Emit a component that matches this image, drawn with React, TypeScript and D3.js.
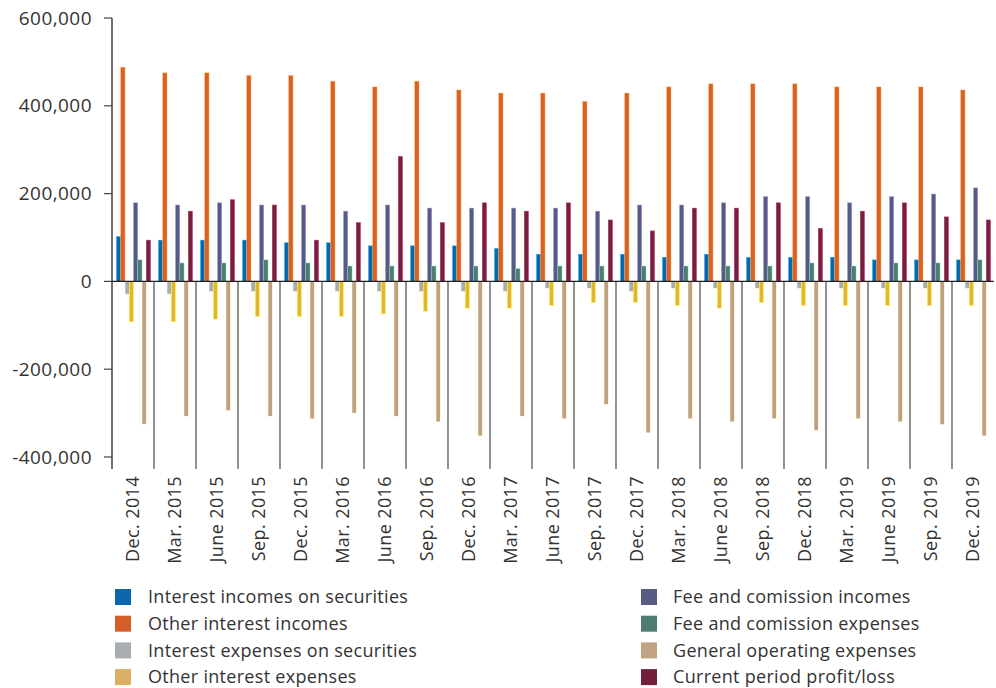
import * as d3 from "d3";

const categories = [
  "Dec. 2014", "Mar. 2015", "June 2015", "Sep. 2015", "Dec. 2015", "Mar. 2016",
  "June 2016", "Sep. 2016", "Dec. 2016", "Mar. 2017", "June 2017", "Sep. 2017",
  "Dec. 2017", "Mar. 2018", "June 2018", "Sep. 2018", "Dec. 2018", "Mar. 2019",
  "June 2019", "Sep. 2019", "Dec. 2019",
];

// values in thousands
const interestIncomesSecurities = [102, 94, 94, 94, 88, 88, 81, 81, 81, 75, 62, 62, 62, 55, 62, 55, 55, 55, 49, 49, 49];
const otherInterestIncomes = [488, 475, 475, 469, 469, 456, 443, 456, 436, 429, 429, 410, 429, 443, 450, 450, 450, 443, 443, 443, 436];
const interestExpensesSecurities = [-29, -29, -23, -23, -23, -23, -23, -23, -23, -23, -16, -16, -23, -16, -16, -16, -16, -16, -16, -16, -16];
const otherInterestExpenses = [-92, -92, -86, -80, -80, -80, -74, -68, -61, -61, -55, -48, -48, -55, -61, -48, -55, -55, -55, -55, -55];
const feeIncomes = [179, 174, 179, 174, 174, 160, 174, 167, 167, 167, 167, 160, 174, 174, 179, 193, 193, 179, 193, 199, 213];
const feeExpenses = [49, 42, 42, 49, 42, 35, 35, 35, 35, 29, 35, 35, 35, 35, 35, 35, 42, 35, 42, 42, 49];
const generalOperating = [-325, -307, -294, -307, -313, -300, -307, -320, -352, -307, -313, -280, -345, -313, -320, -313, -339, -313, -320, -326, -352];
const profitLoss = [94, 160, 186, 174, 94, 134, 285, 134, 179, 160, 179, 140, 115, 167, 167, 179, 121, 160, 179, 147, 140];

const yTicks = [600, 400, 200, 0, -200, -400];

const series = [
  { name: "Interest incomes on securities", values: interestIncomesSecurities, color: "#0b66aa", legend: "#0b66aa" },
  { name: "Other interest incomes", values: otherInterestIncomes, color: "#d8612a", legend: "#d45f2a" },
  { name: "Interest expenses on securities", values: interestExpensesSecurities, color: "#a7aeb1", legend: "#a6aeb2" },
  { name: "Other interest expenses", values: otherInterestExpenses, color: "#e5b431", legend: "#d9b064" },
  { name: "Fee and comission incomes", values: feeIncomes, color: "#575b82", legend: "#585c85" },
  { name: "Fee and comission expenses", values: feeExpenses, color: "#4f7c6f", legend: "#4f7c70" },
  { name: "General operating expenses", values: generalOperating, color: "#c0a17f", legend: "#c1a383" },
  { name: "Current period profit/loss", values: profitLoss, color: "#731f3e", legend: "#731e3d" },
];

const FONT = "'Open Sans', 'Noto Sans', sans-serif";
const TEXT = "#333";

export default function App() {
  const width = 996;
  const height = 688;
  const left = 112;
  const right = 994;

  const y = d3.scaleLinear().domain([-400, 600]).range([457, 18]);
  const x0 = d3.scaleBand<string>().domain(categories).range([left, right]).padding(0);
  const x1 = d3
    .scaleBand<number>()
    .domain(d3.range(series.length))
    .range([4.5, x0.bandwidth() - 3.5])
    .padding(0);
  const zero = y(0);
  // hyphen for negatives, as in the original
  const fmt = (v: number) => d3.format(",")(v).replace("−", "-");

  return (
    <svg
      width={width}
      height={height}
      style={{ position: "absolute", left: 0, top: 0, display: "block", background: "#fff" }}
      fontFamily={FONT}
    >
      {/* bars */}
      {categories.map((c, ci) => (
        <g key={c} transform={`translate(${x0(c)},0)`}>
          {series.map((s, si) => {
            const v = s.values[ci];
            const top = Math.min(y(v), zero);
            const h = Math.abs(y(v) - zero);
            return (
              <rect
                key={s.name}
                x={x1(si)}
                y={top}
                width={x1.bandwidth()}
                height={h}
                fill={s.color}
                stroke={d3.color(s.color)!.brighter(1.6).formatHex()}
                strokeWidth={0.5}
              />
            );
          })}
        </g>
      ))}

      {/* category dividers */}
      {categories.slice(1).map((c) => (
        <line key={c} x1={x0(c)} x2={x0(c)} y1={zero} y2={469} stroke="#3a3a3a" strokeWidth={1.1} />
      ))}

      {/* y axis */}
      <line x1={left} x2={left} y1={y(600)} y2={469} stroke="#222" strokeWidth={1.3} />
      {yTicks.map((t) => (
        <g key={t} transform={`translate(0,${y(t)})`}>
          <line x1={104} x2={left} stroke="#444" strokeWidth={1.2} />
          <text x={92} dy="0.35em" textAnchor="end" fontSize={19} letterSpacing={0.45} fill={TEXT}>
            {fmt(t * 1000)}
          </text>
        </g>
      ))}

      {/* zero line */}
      <line x1={left} x2={right} y1={zero} y2={zero} stroke="#222" strokeWidth={1.3} />

      {/* x labels */}
      {categories.map((c) => (
        <text
          key={c}
          transform={`translate(${x0(c)! + x0.bandwidth() / 2},476) rotate(-90)`}
          textAnchor="end"
          dy="0.35em"
          fontSize={18}
          letterSpacing={0.4}
          fill={TEXT}
        >
          {c}
        </text>
      ))}

      {/* legend */}
      {series.map((s, i) => {
        const col = Math.floor(i / 4);
        const row = i % 4;
        const sx = col === 0 ? 115 : 641;
        const tx = col === 0 ? 148 : 673;
        const cy = 597 + row * 26.7;
        return (
          <g key={s.name}>
            <rect x={sx} y={cy - 8} width={16} height={16} fill={s.legend} />
            <text x={tx} y={cy} dy="0.35em" fontSize={18} letterSpacing={0.3} fill={TEXT}>
              {s.name}
            </text>
          </g>
        );
      })}
    </svg>
  );
}
